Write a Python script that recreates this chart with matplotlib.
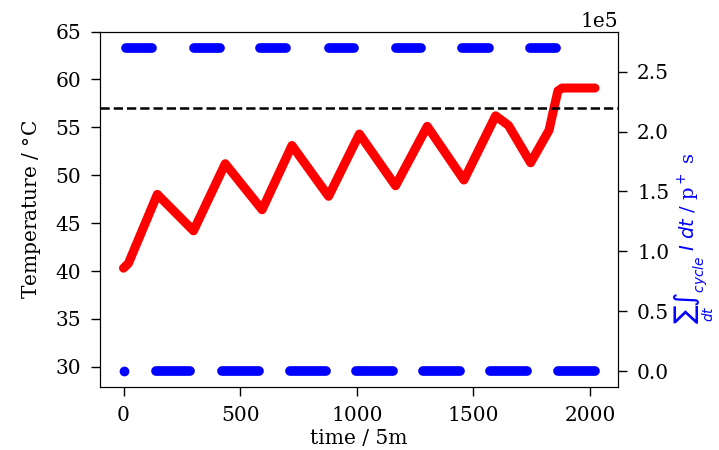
import numpy as np
import matplotlib
matplotlib.use("Agg")
import matplotlib.pyplot as plt

# temperature trace (left axis)
t_temp = [0, 21, 145, 300, 436, 594, 722, 879, 1011, 1166, 1302, 1459,
          1595, 1650, 1745, 1824, 1845, 1862, 1880, 2021]
temp = [40.3, 40.8, 48.0, 44.2, 51.2, 46.4, 53.1, 47.8, 54.3, 48.9, 55.1, 49.5,
        56.2, 55.2, 51.3, 54.7, 57.0, 58.8, 59.1, 59.1]

# integrated current per cycle (right axis): on / off segments
on_start = [10, 301, 587, 879, 1166, 1453, 1741]
on_end = [121, 412, 698, 986, 1274, 1565, 1855]
off_start = [0, 139, 421, 712, 996, 1284, 1573, 1862]
off_end = [0, 287, 579, 866, 1153, 1441, 1729, 2019]
on_level = 2.7e5
off_level = 0.0

threshold = 57.0

plt.rcParams['font.family'] = 'serif'
plt.rcParams['font.size'] = 14.5

fig = plt.figure(figsize=(7.19, 4.5), dpi=100)
ax1 = fig.add_axes([0.139, 0.139, 0.721, 0.791])
ax2 = ax1.twinx()

ax1.plot(t_temp, temp, 'r-', lw=6.5, solid_capstyle='round', solid_joinstyle='round')
ax1.axhline(threshold, color='k', ls='--', lw=1.8)
ax1.set_ylim(27.85, 65)
ax1.set_yticks(np.arange(30, 66, 5))
ax1.set_xticks([0, 500, 1000, 1500, 2000])
ax1.set_xlabel('time / 5m', labelpad=3)
ax1.set_ylabel('Temperature / $\\degree$C', labelpad=9)

for s, e in zip(on_start, on_end):
    ax2.plot([s, e], [on_level, on_level], 'b-', lw=7, solid_capstyle='round')
for s, e in zip(off_start, off_end):
    ax2.plot([s, e], [off_level, off_level], 'b-', lw=7, solid_capstyle='round')
    if s == e:
        ax2.plot([s], [off_level], 'bo', ms=7, mew=0)
ax2.ticklabel_format(axis='y', style='sci', scilimits=(0, 0))
ax2.set_ylabel(r'$\sum_{dt}\int_{cycle}\ I\ dt$ / p$^+$ s', color='b', fontsize=14)
ax2.yaxis.set_label_coords(1.105, 0.42)

for ax in (ax1, ax2):
    ax.tick_params(length=6.5, width=1.0, pad=7)
ax1.set_xlim(-101, 2121)

fig.savefig('out.png', dpi=100)
